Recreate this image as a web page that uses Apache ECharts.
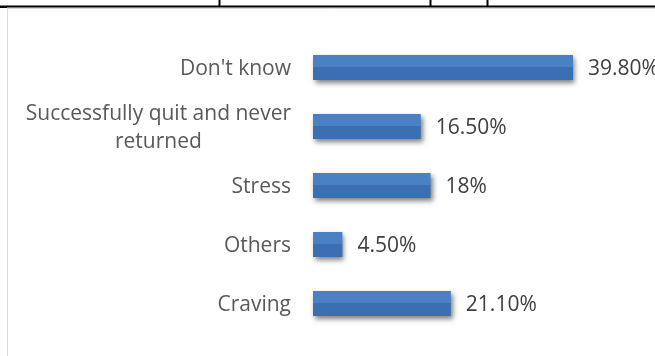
<!DOCTYPE html>
<html>
<head>
<meta charset="utf-8">
<script src="https://cdn.jsdelivr.net/npm/echarts@6/dist/echarts.min.js"></script>
<style>
  html, body { margin: 0; padding: 0; background: #ffffff; }
  #chart { width: 655px; height: 356px; }
</style>
</head>
<body>
<div id="chart"></div>
<script>
// Reasons reported, listed top to bottom
var categories = [
  "Don't know",
  "Successfully quit and never\nreturned",
  "Stress",
  "Others",
  "Craving"
];
// Share of respondents (%)
var values = [39.8, 16.5, 18, 4.5, 21.1];
// Value labels as printed beside each bar
var valueLabels = ["39.80%", "16.50%", "18%", "4.50%", "21.10%"];

var chart = echarts.init(document.getElementById('chart'), null, { renderer: 'canvas' });

var FONT = '"Open Sans", "Noto Sans", sans-serif';
var FONT_SIZE = 21;

chart.setOption({
  backgroundColor: '#ffffff',
  animation: false,
  graphic: [
    // table rule across the top of the page
    { type: 'rect', shape: { x: 0, y: 5.5, width: 655, height: 2 }, style: { fill: '#000000' }, silent: true },
    { type: 'rect', shape: { x: 0, y: 7, width: 7, height: 1 }, style: { fill: '#000000' }, silent: true },
    { type: 'rect', shape: { x: 218.5, y: 0, width: 2, height: 6 }, style: { fill: '#000000' }, silent: true },
    { type: 'rect', shape: { x: 429.5, y: 0, width: 2, height: 6 }, style: { fill: '#000000' }, silent: true },
    { type: 'rect', shape: { x: 486.5, y: 0, width: 2, height: 6 }, style: { fill: '#000000' }, silent: true },
    // chart area frame
    { type: 'rect', shape: { x: 7.5, y: 8.5, width: 700, height: 400 },
      style: { fill: 'none', stroke: '#d9d9d9', lineWidth: 1 }, silent: true }
  ],
  grid: { left: 313, top: 38, width: 294, height: 295, containLabel: false },
  xAxis: {
    type: 'value',
    min: 0,
    max: 45,
    show: false
  },
  yAxis: {
    type: 'category',
    data: categories,
    inverse: true,
    axisLine: { show: false },
    axisTick: { show: false },
    splitLine: { show: false },
    axisLabel: {
      margin: 22,
      color: '#595959',
      fontFamily: FONT,
      fontSize: FONT_SIZE,
      lineHeight: 28,
      padding: [4, 0, 0, 0],
      formatter: function (v) {
        return v.split('\n').map(function (s) { return '{c|' + s + '}'; }).join('\n');
      },
      rich: {
        c: { align: 'center', color: '#595959', fontFamily: FONT, fontSize: FONT_SIZE, lineHeight: 28 }
      }
    }
  },
  series: [{
    type: 'bar',
    data: values,
    barWidth: 25,
    itemStyle: {
      color: {
        type: 'linear', x: 0, y: 0, x2: 0, y2: 1,
        colorStops: [
          { offset: 0, color: '#4a81c5' },
          { offset: 0.47, color: '#4a81c5' },
          { offset: 0.47, color: '#3b6fb1' },
          { offset: 1, color: '#3b6fb1' }
        ]
      },
      shadowColor: 'rgba(0,0,0,0.5)',
      shadowBlur: 5,
      shadowOffsetX: 2,
      shadowOffsetY: 3
    },
    label: {
      show: true,
      position: 'right',
      distance: 15,
      offset: [0, 2],
      color: '#404040',
      fontFamily: FONT,
      fontSize: FONT_SIZE,
      formatter: function (p) { return valueLabels[p.dataIndex]; }
    }
  }]
});
</script>
</body>
</html>
